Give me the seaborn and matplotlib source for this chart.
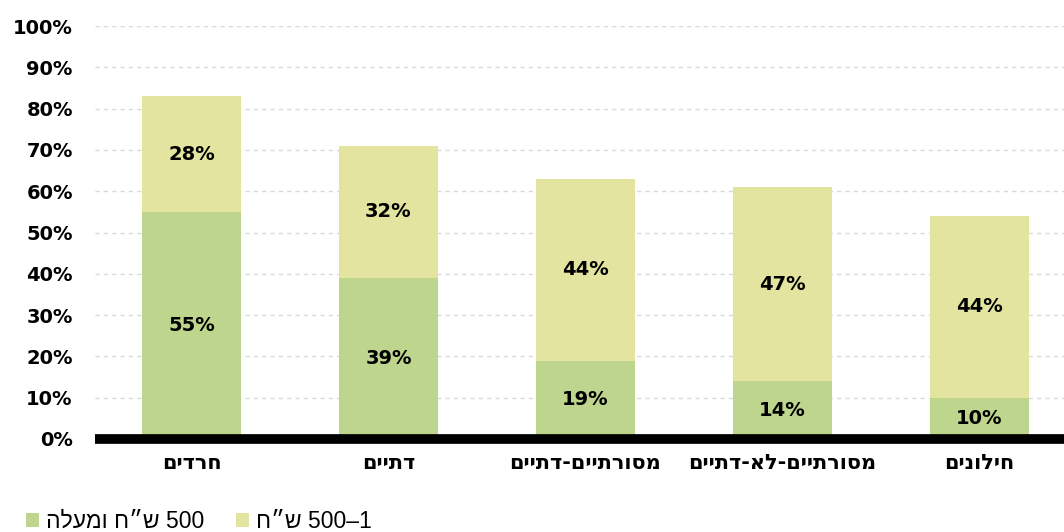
import numpy as np
import pandas as pd
import matplotlib
matplotlib.use("Agg")
import matplotlib.pyplot as plt
from matplotlib.patches import Patch
import seaborn as sns

# data (categories in logical Hebrew order, left to right on the chart)
categories = ["חרדים", "דתיים", "מסורתיים-דתיים", "מסורתיים-לא-דתיים", "חילונים"]
high_income = [55, 39, 19, 14, 10]     # 500 ש"ח ומעלה
low_income = [28, 32, 44, 47, 44]      # 1-500 ש"ח
y_ticks = list(range(0, 101, 10))
# legend labels already in visual (left-to-right) order, matplotlib has no bidi
legend_labels = ["הלעמו ח״ש 500", "ח״ש 500–1"]

GREEN = "#BED58D"
YELLOW = "#E3E49F"

sns.set_theme(style="white")
plt.rcParams["font.family"] = ["DejaVu Sans"]

df = pd.DataFrame({
    "category": [c[::-1] for c in categories],   # reverse for RTL display
    "high": high_income,
    "low": low_income,
})
df["total"] = df["high"] + df["low"]

fig = plt.figure(figsize=(10.64, 5.32), dpi=100)
ax = fig.add_axes([95 / 1064, 93 / 532, 1 - 95 / 1064, (439 - 26) / 532])

sns.barplot(data=df, x="category", y="total", color=YELLOW, width=0.5,
            saturation=1, linewidth=0, ax=ax, zorder=2)
sns.barplot(data=df, x="category", y="high", color=GREEN, width=0.5,
            saturation=1, linewidth=0, ax=ax, zorder=3)

# segment labels
top_bars = ax.containers[0]
low_bars = ax.containers[1]
for bar, val in zip(top_bars, df["low"]):
    ax.text(bar.get_x() + bar.get_width() / 2, bar.get_height() - val / 2,
            f"{val}%", ha="center", va="center", fontsize=14,
            fontweight="bold", color="black", zorder=4)
for bar, val in zip(low_bars, df["high"]):
    ax.text(bar.get_x() + bar.get_width() / 2, val / 2,
            f"{val}%", ha="center", va="center", fontsize=14,
            fontweight="bold", color="black", zorder=4)

ax.set_ylim(0, 100)
ax.set_xlim(-0.49, 4.43)
ax.set_yticks(y_ticks)
ax.set_yticklabels([f"{t}%" for t in y_ticks], fontsize=14, fontweight="bold",
                   color="black")
ax.set_xlabel("")
ax.set_ylabel("")
ax.tick_params(axis="y", length=0, pad=16)
ax.tick_params(axis="x", length=0, pad=10)
for lbl in ax.get_xticklabels():
    lbl.set_fontsize(15)
    lbl.set_fontweight("bold")
    lbl.set_color("black")

ax.yaxis.grid(True, color="#d9d9d9", linestyle=(0, (3, 3)), linewidth=1, zorder=0)
ax.set_axisbelow(True)
for side in ["top", "right", "left"]:
    ax.spines[side].set_visible(False)
ax.spines["bottom"].set_color("black")
ax.spines["bottom"].set_linewidth(7)
ax.spines["bottom"].set_capstyle("butt")
ax.spines["bottom"].set_zorder(5)

handles = [Patch(facecolor=GREEN, edgecolor="none"),
           Patch(facecolor=YELLOW, edgecolor="none")]
fig.legend(handles, legend_labels, loc="center left", bbox_to_anchor=(0.014, 0.02),
           ncol=2, frameon=False, handlelength=0.55, handleheight=0.55,
           handletextpad=0.3, columnspacing=1.4, borderpad=0, labelcolor="black",
           prop={"family": ["Liberation Sans", "DejaVu Sans"], "size": 16.5})

fig.savefig("out.png", dpi=100)
